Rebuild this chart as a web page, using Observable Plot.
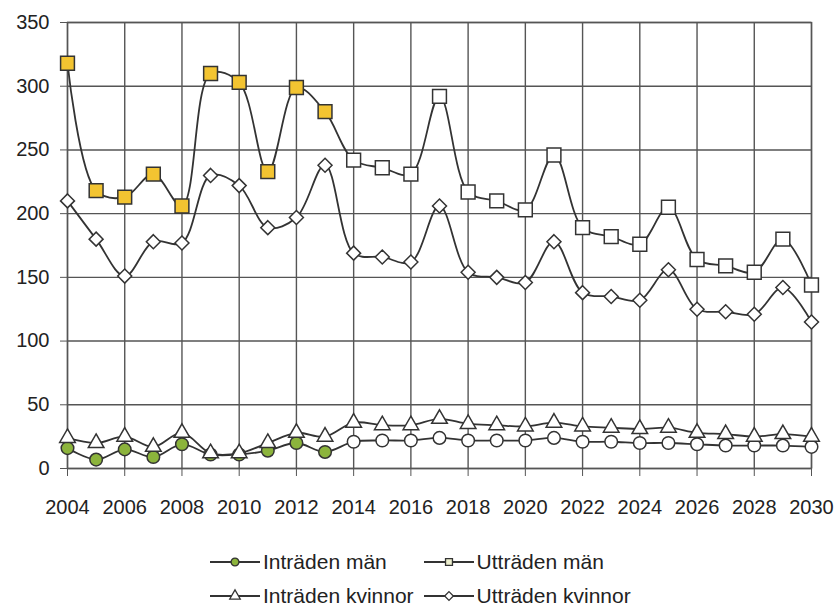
<!DOCTYPE html>
<html>
<head>
<meta charset="utf-8">
<script src="https://cdn.jsdelivr.net/npm/d3@7"></script>
<script src="https://cdn.jsdelivr.net/npm/@observablehq/plot@0.6"></script>
<style>
  body { margin: 0; background: #fff; width: 835px; height: 610px; overflow: hidden; font-family: "Liberation Sans", Arial, sans-serif; }
  #chart svg { display: block; }
  #legend { display: inline-grid; grid-template-columns: auto auto; column-gap: 10px; row-gap: 10px; margin-left: 210px; margin-top: 20px; font-size: 21px; color: #222; }
  .item { display: flex; align-items: center; white-space: nowrap; }
  .item svg { margin-right: 3px; }
</style>
</head>
<body>
<div id="chart"></div>
<div id="legend"></div>
<script>
const years = [2004,2005,2006,2007,2008,2009,2010,2011,2012,2013,2014,2015,2016,2017,2018,2019,2020,2021,2022,2023,2024,2025,2026,2027,2028,2029,2030];
const intradenMan     = [16,7,15,9,19,11,11,14,20,13,21,22,22,24,22,22,22,24,21,21,20,20,19,18,18,18,17];
const utradenMan      = [318,218,213,231,206,310,303,233,299,280,242,236,231,292,217,210,203,246,189,182,176,205,164,159,154,180,144];
const intradenKvinnor = [24,20,25,17,28,12,12,20,28,25,36,34,34,39,35,34,33,36,33,32,31,32,28,27,25,27,25];
const utradenKvinnor  = [210,180,151,178,177,230,222,189,197,238,169,166,162,206,154,150,146,178,138,135,132,156,125,123,121,142,115];
const xTicks = [2004,2006,2008,2010,2012,2014,2016,2018,2020,2022,2024,2026,2028,2030];
const yTicks = [0,50,100,150,200,250,300,350];
const lastObservedYear = 2013;

const seriesDefs = [
  {name: "Inträden män", values: intradenMan, symbol: "circle", r: 6.3, fillObs: "#8cb43c", legendFill: "#8cb43c"},
  {name: "Utträden män", values: utradenMan, symbol: "square", r: 7.8, fillObs: "#f3c431", legendFill: "#eef0cf"},
  {name: "Inträden kvinnor", values: intradenKvinnor, symbol: "triangle", r: 5.8, fillObs: "#ffffff", legendFill: "#ffffff"},
  {name: "Utträden kvinnor", values: utradenKvinnor, symbol: "diamond2", r: 6.3, fillObs: "#ffffff", legendFill: "#ffffff"}
];

const ink = "#333";
const marks = [
  Plot.gridY(yTicks, {stroke: "#555", strokeOpacity: 1, strokeWidth: 1.4}),
  Plot.gridX(xTicks, {stroke: "#555", strokeOpacity: 1, strokeWidth: 1.4}),
  Plot.frame({stroke: "#555", strokeWidth: 1.4}),
  Plot.axisY(yTicks, {tickSize: 7, tickPadding: 11, stroke: "#555", fontSize: 20, fill: "#222", label: null}),
  Plot.axisX(xTicks, {tickSize: 8, tickPadding: 23, stroke: "#555", fontSize: 20, fill: "#222", label: null, tickFormat: d => String(d)})
];
for (const s of seriesDefs) {
  const rows = years.map((y, i) => ({year: y, value: s.values[i]}));
  marks.push(Plot.line(rows, {x: "year", y: "value", stroke: ink, strokeWidth: 1.8, curve: "catmull-rom"}));
}
for (const s of seriesDefs) {
  const rows = years.map((y, i) => ({year: y, value: s.values[i]}));
  marks.push(Plot.dot(rows, {x: "year", y: "value", symbol: () => s.symbol, r: s.r, stroke: ink, strokeWidth: 1.5,
    fill: d => d.year <= lastObservedYear ? s.fillObs : "#ffffff"}));
}

const chart = Plot.plot({
  width: 835, height: 530,
  marginLeft: 67, marginRight: 24, marginTop: 22, marginBottom: 62,
  x: {domain: [2004, 2030], label: null},
  y: {domain: [0, 350], label: null},
  symbol: {type: "identity"},
  style: {fontFamily: "Liberation Sans, Arial, sans-serif", background: "#fff"},
  marks
});
document.getElementById("chart").appendChild(chart);

// legend
const symbolTypes = {circle: d3.symbolCircle, square: d3.symbolSquare, triangle: d3.symbolTriangle, diamond2: d3.symbolDiamond2};
const legend = document.getElementById("legend");
for (const s of seriesDefs) {
  const item = document.createElement("div");
  item.className = "item";
  const sym = d3.symbol(symbolTypes[s.symbol], 48)();
  item.innerHTML = `<svg width="50" height="16"><line x1="0" x2="50" y1="8" y2="8" stroke="${ink}" stroke-width="1.8"/><path d="${sym}" transform="translate(25,8)" fill="${s.legendFill}" stroke="${ink}" stroke-width="1.3"/></svg><span>${s.name}</span>`;
  legend.appendChild(item);
}
</script>
</body>
</html>
